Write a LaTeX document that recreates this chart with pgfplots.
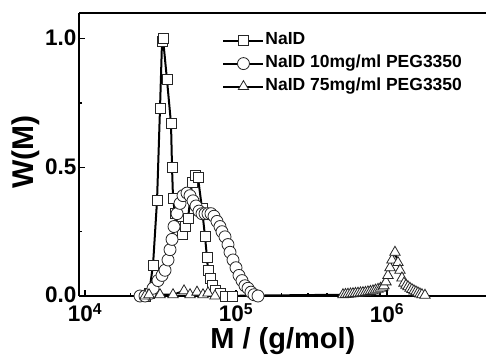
\documentclass[border=0pt]{standalone}
\usepackage{fontspec}
\setmainfont{Liberation Sans}
\usepackage{pgfplots}
\pgfplotsset{compat=1.18}
\begin{document}
\begin{tikzpicture}
\begin{axis}[
  name=ax,
  scale only axis, width=407pt, height=283pt,
  xmode=log, xmin=9120, xmax=4.53e6,
  ymin=0, ymax=1.1,
  axis x line=box, axis y line=left,
  every outer x axis line/.append style={-},
  every outer y axis line/.append style={-},
  every inner x axis line/.append style={-},
  every inner y axis line/.append style={-},
  axis line style={-, line width=1.7pt, black},
  xtick pos=left, ytick pos=left,
  tick align=inside,
  major tick length=6pt, minor tick length=3.5pt,
  tick style={line width=1.4pt, black},
  xtick={1e4,1e5,1e6},
  xticklabels={10\textsuperscript{4},10\textsuperscript{5},10\textsuperscript{6}},
  ytick={0,0.5,1}, minor ytick={0.25,0.75},
  /pgf/number format/assume math mode=true,
  yticklabel style={/pgf/number format/fixed, /pgf/number format/fixed zerofill, /pgf/number format/precision=1, xshift=1pt, yshift=1pt},
  tick label style={font=\bfseries\fontsize{22.5}{22.5}\selectfont},
  xticklabel style={yshift=-4pt},
  xlabel={M / (g/mol)},
  xlabel style={font=\bfseries\fontsize{29}{29}\selectfont, at={(axis description cs:0.501,-0.187)}, anchor=base},
  ylabel={W(M)},
  ylabel style={font=\bfseries\fontsize{30}{30}\selectfont, at={(axis description cs:-0.130,0.509)}, anchor=center},
  legend style={at={(0.352,0.935)}, anchor=north west, draw=none, fill=none,
    font=\bfseries\fontsize{17.5}{17.5}\selectfont, row sep=5pt, inner sep=0pt,
    nodes={inner sep=1pt, text height=12pt, text depth=4pt}},
  legend cell align=left,
  legend image code/.code={\draw[mark repeat=2,mark phase=2] plot coordinates {(0pt,0pt) (20pt,0pt) (40pt,0pt)};},
]
\addplot[black, line width=2pt, mark=square*, mark size=5pt,
  mark options={fill=white, draw=black!85, line width=0.8pt}] coordinates {
(24970,0.0) (26530,0.01) (28200,0.12) (29980,0.37) (31380,0.73) (32360,0.99)
(32860,1.0) (34910,0.84) (37110,0.67) (37690,0.50) (38270,0.38) (39450,0.32)
(41300,0.27) (43890,0.24) (45950,0.27) (48100,0.30) (51120,0.44) (53520,0.47)
(56020,0.46) (59540,0.34) (62330,0.23) (64260,0.15) (65240,0.10) (67260,0.07)
(69340,0.04) (72600,0.02) (78340,0.01) (84550,0.0) (94080,0.0)
};
\addlegendentry{NaID}
\addplot[black, line width=2pt, mark=*, mark size=6pt,
  mark options={fill=white, draw=black!85, line width=0.8pt}] coordinates {
(23130,0.0) (24970,0.0) (26950,0.01) (28200,0.03) (30440,0.06) (32360,0.08)
(33880,0.10) (35450,0.14) (36550,0.18) (37690,0.22) (38850,0.27) (40690,0.32)
(42570,0.36) (44570,0.39) (47370,0.40) (49590,0.39) (51910,0.37) (54340,0.35)
(56890,0.33) (59540,0.32) (62330,0.32) (65240,0.32) (68300,0.32) (71500,0.31)
(74850,0.29) (78340,0.27) (80790,0.25) (84550,0.23) (88510,0.20) (91260,0.17)
(95530,0.14) (100000,0.11) (104700,0.08) (109600,0.06) (114700,0.04)
(120100,0.03) (125700,0.015) (131600,0.005) (139900,0.0)
};
\addlegendentry{NaID 10mg/ml PEG3350}
\addplot[black, line width=2pt, mark=triangle*, mark size=6pt,
  mark options={fill=white, draw=black!85, line width=0.8pt}] coordinates {
(24970,0.0) (26530,0.005) (31380,0.005) (38270,0.005) (45250,0.02)
(49590,0.005) (55170,0.015) (60460,0.005) (65240,0.012) (72600,0.0)
(511200,0.005) (531100,0.006) (551700,0.007) (573200,0.008) (595400,0.009)
(618500,0.010) (642600,0.011) (667600,0.012) (693400,0.013) (720400,0.014)
(748500,0.016) (777600,0.018) (807900,0.020) (839000,0.023) (871800,0.026)
(905700,0.030) (940800,0.035)
(955200,0.04) (984900,0.055) (1015300,0.08) (1047000,0.11) (1079300,0.14)
(1130000,0.17) (1182600,0.13) (1219400,0.10) (1257000,0.07) (1296100,0.05)
(1336100,0.042) (1377600,0.036) (1420200,0.030) (1464400,0.025) (1509700,0.020)
(1556400,0.016) (1604600,0.012) (1654000,0.008) (1705400,0.005) (1785700,0.003)
};
\addlegendentry{NaID 75mg/ml PEG3350}
\end{axis}
\pgfresetboundingbox
\path (ax.south west) ++(-79pt,-61pt) rectangle ([yshift=13pt]ax.north east);
\end{tikzpicture}
\end{document}
